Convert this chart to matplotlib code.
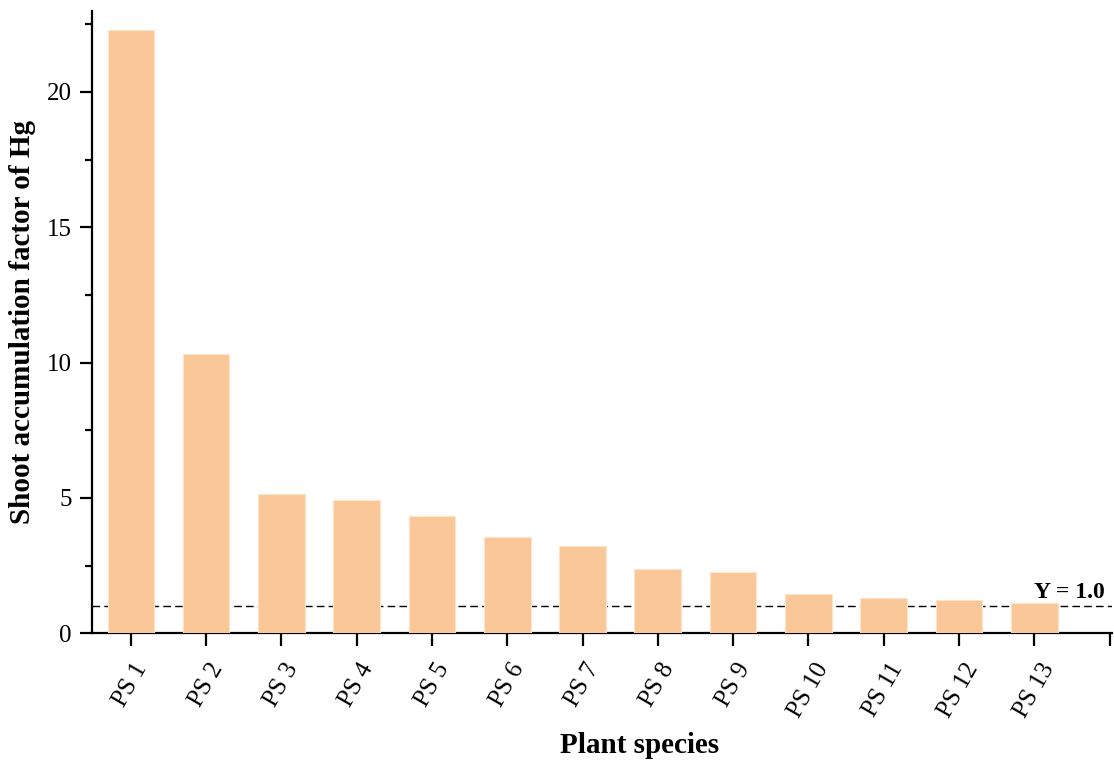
import matplotlib
matplotlib.use("Agg")
import matplotlib.pyplot as plt
from matplotlib.ticker import MultipleLocator

# Data
species = ["PS 1", "PS 2", "PS 3", "PS 4", "PS 5", "PS 6", "PS 7",
           "PS 8", "PS 9", "PS 10", "PS 11", "PS 12", "PS 13"]
shoot_af = [22.29, 10.30, 5.13, 4.91, 4.34, 3.57, 3.24,
            2.39, 2.25, 1.45, 1.29, 1.22, 1.12]
threshold = 1.0

plt.rcParams["font.family"] = ["Liberation Serif", "DejaVu Serif"]

fig = plt.figure(figsize=(11.14, 7.62), dpi=100)
ax = fig.add_axes([0.083, 0.169, 0.915, 0.817])

pos = list(range(1, len(species) + 1))
ax.bar(pos, shoot_af, width=0.62, color="#FAC898", edgecolor="#FDE3C8",
       linewidth=0.8, zorder=3)

# Reference line
ax.axhline(threshold, color="black", linestyle=(0, (5.5, 3)), linewidth=1.0, zorder=2)
ax.text(13.0, threshold + 0.12, "Y = 1.0", fontsize=17, fontweight="bold",
        ha="left", va="bottom")

ax.set_xlim(0.49, 14.03)
ax.set_ylim(0, 23)
ax.set_xticks(pos + [14])
ax.set_xticklabels(species + [""], rotation=60, ha="center")
ax.yaxis.set_major_locator(MultipleLocator(5))
ax.yaxis.set_minor_locator(MultipleLocator(2.5))

for s in ["top", "right"]:
    ax.spines[s].set_visible(False)
for s in ["left", "bottom"]:
    ax.spines[s].set_linewidth(1.6)

ax.tick_params(axis="both", which="major", direction="out", length=9,
               width=1.6, labelsize=18)
ax.tick_params(axis="y", which="minor", direction="out", length=5, width=1.6)
ax.tick_params(axis="x", pad=10)
ax.tick_params(axis="y", pad=6)

ax.set_xlabel("Plant species", fontsize=21, fontweight="bold")
ax.xaxis.set_label_coords(0.537, -0.158)
ax.set_ylabel("Shoot accumulation factor of Hg", fontsize=21, fontweight="bold",
              labelpad=8)

fig.savefig("out.png", dpi=100)
